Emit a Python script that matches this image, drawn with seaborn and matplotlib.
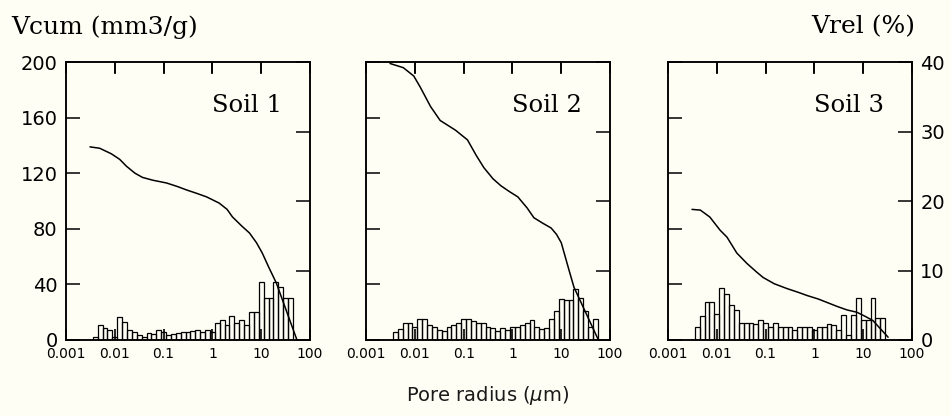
import numpy as np
import pandas as pd
import matplotlib
matplotlib.use("Agg")
import matplotlib.pyplot as plt
import seaborn as sns
from matplotlib.ticker import FixedLocator, FixedFormatter, NullLocator

sns.set_theme(style="white")
plt.rcParams['font.family'] = ['DejaVu Sans']
plt.rcParams['mathtext.fontset'] = 'dejavusans'
plt.rcParams['axes.axisbelow'] = False

BG = '#fefef4'

# ---------------- data ----------------
soils = ["Soil 1", "Soil 2", "Soil 3"]

# histogram (Vrel, %), bins of 0.1 decade starting at log10(r) = -2.45
hist1 = [0.5, 2.2, 1.7, 1.4, 0.4, 3.3, 2.6, 1.5, 1.1, 0.7, 0.4, 1.0, 0.9, 1.5, 1.2, 0.7, 0.9, 1.0, 1.1, 1.2,
         1.3, 1.4, 1.15, 1.4, 1.15, 2.4, 2.9, 2.1, 3.5, 2.4, 2.9, 2.1, 4.0, 4.0,
         8.3, 6.0, 6.0, 8.3, 7.6, 6.1, 6.1]
hist2 = [1.1, 1.6, 2.5, 2.4, 1.9, 3.0, 3.0, 2.1, 1.8, 1.4, 1.3, 1.9, 2.2, 2.5, 3.0, 3.0, 2.8, 2.5, 2.4, 1.9,
         1.7, 1.3, 1.7, 1.5, 1.8, 1.9, 2.2, 2.5, 2.9, 1.9, 1.6, 1.7, 3.0, 4.2, 5.9, 5.8, 5.8, 7.4, 6.1, 4.2,
         1.9, 3.0]
hist3 = [1.8, 3.4, 5.4, 5.4, 3.8, 7.5, 6.6, 5.1, 4.3, 2.5, 2.5, 2.5, 2.3, 2.9, 2.5,
         1.9, 2.5, 1.9, 1.8, 1.8, 1.4, 1.9, 1.9, 1.8, 1.4, 1.9, 1.8,
         2.3, 2.1, 1.4, 3.6, 0.7, 3.6, 6.0, 2.9, 2.9, 6.0, 3.1, 3.1]
hists = [hist1, hist2, hist3]
bin_start_log = -2.45
bin_width_log = 0.1

# cumulative curves (Vcum, mm3/g) vs pore radius (um)
r1 = [0.0031, 0.0049, 0.0085, 0.0126, 0.0174, 0.026, 0.037, 0.06, 0.115, 0.19, 0.295, 0.48, 0.76, 1.38,
      2.0, 2.57, 4.0, 5.75, 8.0, 10.5, 14.0, 20.4, 54]
v1 = [139, 138, 134, 130, 125, 120, 117, 115, 113, 110.5, 108, 105.5, 103, 98.5,
      94, 88.6, 82, 77, 70, 62.6, 53, 41, 0]
r2 = [0.0031, 0.0058, 0.0095, 0.0129, 0.021, 0.033, 0.068, 0.12, 0.18, 0.26, 0.4, 0.58, 0.85, 1.29,
      2.0, 2.75, 4.2, 6.2, 8.0, 10, 14.5, 18.2, 56]
v2 = [199, 196, 190, 182, 168, 158, 151, 144, 133, 124, 116, 111, 107, 103,
      95, 88, 84, 80.6, 76, 70, 50, 38, 1]
r3 = [0.0031, 0.0046, 0.0072, 0.0117, 0.0162, 0.0257, 0.0417, 0.065, 0.089, 0.15, 0.275, 0.45, 0.71,
      1.2, 1.82, 3.0, 4.7, 7.4, 11.0, 15.8, 32.4]
v3 = [94, 93.5, 88.5, 79, 74, 62.6, 55, 49, 45, 40.5, 37, 34.5, 32,
      29.5, 27, 24, 21.6, 20, 17, 14, 2]
curves = [(r1, v1), (r2, v2), (r3, v3)]

xticks = [0.001, 0.01, 0.1, 1, 10, 100]
xticklabels = ["0.001", "0.01", "0.1", "1", "10", "100"]
top_ticks = [0.01, 0.1, 1, 10]
yl_ticks = [0, 40, 80, 120, 160, 200]
yr_ticks = [0, 10, 20, 30, 40]

# ---------------- figure ----------------
fig = plt.figure(figsize=(9.51, 4.16), dpi=100, facecolor=BG)
lefts = [0.0694, 0.3849, 0.7024]
width = 0.2566
bottom, height = 0.1827, 0.668

for i in range(3):
    ax = fig.add_axes([lefts[i], bottom, width, height])
    ax.set_facecolor(BG)
    ax2 = ax.twinx()
    ax2.patch.set_visible(False)

    n = len(hists[i])
    centers = 10 ** (bin_start_log + bin_width_log * (np.arange(n) + 0.5))
    df = pd.DataFrame({"r": centers, "v": hists[i]})
    sns.histplot(data=df, x="r", weights="v", bins=n,
                 binrange=(bin_start_log, bin_start_log + bin_width_log * n),
                 log_scale=True, fill=False, color="black", linewidth=0.9,
                 element="bars", ax=ax2)

    rc, vc = curves[i]
    dfc = pd.DataFrame({"r": rc, "v": vc})
    sns.lineplot(data=dfc, x="r", y="v", color="black", linewidth=1.1, ax=ax)

    ax.set_xlim(0.001, 100)
    ax.set_ylim(0, 200)
    ax2.set_ylim(0, 40)

    ax.xaxis.set_major_locator(FixedLocator(xticks))
    ax.xaxis.set_major_formatter(FixedFormatter(xticklabels))
    ax.xaxis.set_minor_locator(NullLocator())
    ax.tick_params(axis="x", direction="in", top=True, bottom=True, length=8, width=1.2,
                   labelsize=10, pad=5, colors="black")

    # inward decade ticks along the top edge (x in data units, y in axes fraction)
    ax2.vlines(top_ticks, 0.958, 1.0, transform=ax2.get_xaxis_transform(),
               colors="black", linewidth=1.2, zorder=5)

    ax.set_yticks(yl_ticks)
    ax.tick_params(axis="y", direction="in", left=True, right=False, length=10, width=1.1,
                   labelleft=(i == 0), labelsize=14, pad=6, colors="black")
    ax2.set_yticks(yr_ticks)
    ax2.tick_params(axis="y", direction="in", right=True, left=False, length=10, width=1.1,
                    labelright=(i == 2), labelsize=14, pad=6, colors="black")
    ax.set_xlabel("")
    ax.set_ylabel("")
    ax2.set_xlabel("")
    ax2.set_ylabel("")
    for a in (ax, ax2):
        for s in a.spines.values():
            s.set_color("black")
            s.set_linewidth(1.1)

    ax.text(0.74, 0.845, soils[i], transform=ax.transAxes, ha="center", va="center",
            fontsize=17.5, family="DejaVu Serif", color="black")

fig.text(0.012, 0.935, "Vcum (mm3/g)", ha="left", va="center", fontsize=18,
         family="DejaVu Serif", color="black")
fig.text(0.962, 0.935, "Vrel (%)", ha="right", va="center", fontsize=18,
         family="DejaVu Serif", color="black")
fig.text(0.513, 0.05, r"Pore radius ($\mu$m)", ha="center", va="center", fontsize=14,
         color="#1a1a1a")

fig.savefig("out.png", dpi=100, facecolor=BG)
